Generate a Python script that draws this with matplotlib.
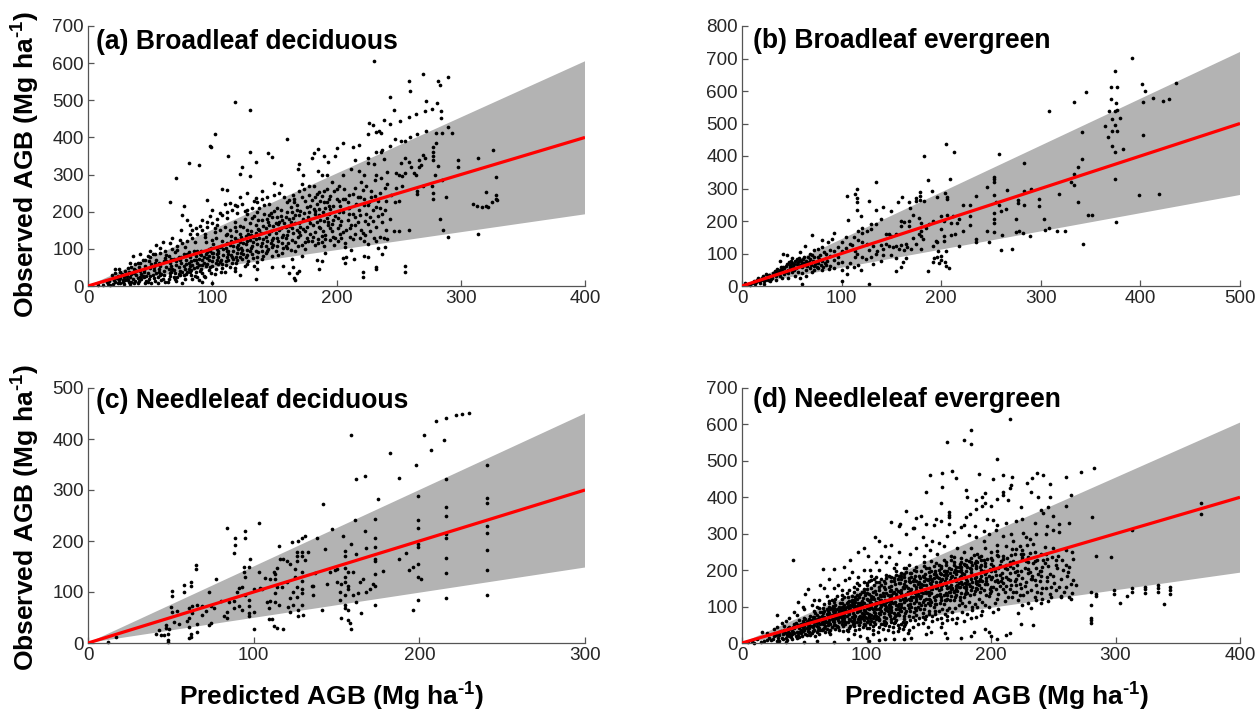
import numpy as np
import matplotlib
matplotlib.use("Agg")
import matplotlib.pyplot as plt

plt.rcParams['font.family'] = ['Liberation Sans', 'DejaVu Sans']
plt.rcParams['mathtext.fontset'] = 'custom'
plt.rcParams['mathtext.rm'] = 'Liberation Sans'
plt.rcParams['mathtext.bf'] = 'Liberation Sans:bold'

titles = ["(a) Broadleaf deciduous", "(b) Broadleaf evergreen",
          "(c) Needleleaf deciduous", "(d) Needleleaf evergreen"]
x_max = [400, 500, 300, 400]
y_max = [700, 800, 500, 700]
x_ticks = [[0, 100, 200, 300, 400], [0, 100, 200, 300, 400, 500],
           [0, 100, 200, 300], [0, 100, 200, 300, 400]]
y_ticks = [[0, 100, 200, 300, 400, 500, 600, 700],
           [0, 100, 200, 300, 400, 500, 600, 700, 800],
           [0, 100, 200, 300, 400, 500],
           [0, 100, 200, 300, 400, 500, 600, 700]]
band_upper = [605, 720, 450, 605]
band_lower = [193, 280, 148, 193]

points_a = [
(230,605),(118,495),(130,475),(102,408),(98,378),(99,373),(160,395),(81,330),(89,326),(71,290),(113,349),(130,361),(145,358),(148,347),
(135,335),(124,320),(122,302),(130,295),(66,225),(77,216),(96,232),(108,262),(112,258),(100,205),(270,571),(258,553),(259,525),(290,562),
(282,551),(283,540),(243,510),(272,497),(281,493),(277,477),(284,470),(284,452),(264,463),(271,470),(258,455),(251,445),(246,473),(238,447),
(243,436),(226,438),(229,433),(232,415),(225,410),(234,418),(236,412),(290,427),(293,413),(272,417),(265,408),(259,400),(255,390),(252,390),
(247,397),(243,377),(237,367),(280,412),(285,413),(280,385),(278,375),(278,360),(270,352),(271,345),(278,350),(278,340),(266,340),(255,345),
(258,335),(252,330),(260,320),(266,320),(268,325),(282,322),(262,305),(255,305),(250,300),(253,295),(248,303),(241,308),(264,300),(279,300),
(285,285),(277,268),(270,268),(265,255),(265,248),(278,250),(278,235),(288,240),(283,180),(286,150),(290,132),(298,338),(298,320),(314,344),
(326,366),(328,293),(310,222),(313,215),(317,213),(320,215),(322,214),(325,226),(320,253),(328,245),(328,235),(329,232),(314,140),(258,150),
(250,148),(255,55),(255,38),(221,38),(221,25),(232,45),(232,50),(186,45),(188,68),(184,70),(207,62),(205,75),(208,78),(214,72),(222,80),
(225,78),(237,85),(233,102),(239,105),(168,35),(166,22),(167,15),(162,35),(135,18),(122,30),(118,48),(136,45),(148,50),(157,55),(165,50),
(170,40),(205,385),(200,372),(213,375),(218,380),(199,350),(185,370),(182,358),(190,350),(193,335),(180,345),(170,328),(169,315),(185,310),
(188,300),(192,300),(173,300),(205,300),(212,315),(218,310),(222,300),(215,340),(225,345),(232,362),(236,360),(230,328),(238,342),(225,330),
(232,300),(236,292),(220,280),(224,270),(231,285),(228,255),(235,250),(241,275),(248,265),(253,270),(244,245),(240,230),(250,228),(222,235),
(226,225),(232,212),(218,205),(224,195),(233,188),(237,172),(240,150),(232,160),(225,168),(220,150),(215,140),(222,120),(225,112),(232,120),
(238,130),(241,127),(212,98),(207,105),(198,110),(190,108),(195,125),(203,140),(208,150),(212,165),(204,175),(196,168),(190,175),(186,160),
(183,145),(188,135),(176,130),(170,145),(164,155),(158,170),(152,185),(146,190),(140,178),(135,165),(128,150),(122,140),(118,130),(112,115),
(108,120),(104,100),(100,88),(96,76),(92,70),(88,62),(82,55),(78,45),(74,40),(70,35),(66,28),(60,20),(56,24),(52,30),(48,35),(44,28),(40,22),
(36,18),(32,15),(28,10),(24,8),(20,6),(16,5),(12,3),(8,2),(22,35),(25,45),(30,40),(35,52),(38,58),(42,62),(46,70),(50,78),(54,85),(58,90),
(62,95),(65,80),(68,100),(72,108),(76,115),(80,122),(84,130),(88,140),(92,150),(96,160),(100,170),(104,180),(108,190),(112,198),(116,205),
(120,215),(124,220),(128,205),(132,210),(136,225),(140,235),(144,240),(150,245),(154,250),(158,240),(162,232),(166,225),(170,255),(174,262),
(178,268),(182,270),(186,252),(190,255),(196,280),(202,270),(206,262),(210,245),(200,235),(192,225),(184,220),(176,212),(168,205),(160,198),
(150,202),(142,195),(134,188),(126,180),(118,172),(110,160),(102,145),(94,132),(86,118),(78,105),(70,92),(62,75),(54,62),(46,55),(38,42),(30,30),
(26,22),(34,25),(42,40),(50,48),(58,55),(66,62),(74,70),(82,78),(90,85),(98,95),(106,105),(114,110),(122,118),(130,125),(138,130),(146,140),
(154,150),(162,162),(170,170),(178,178),(186,190),(194,195),(202,200),(210,210),(216,222),(222,218),(228,240),(120,90),(112,78),(104,70),
(96,60),(88,50),(80,38),(72,25),(64,12),(56,8),(48,12),(40,8),(100,55),(92,35),(84,20),(76,8),(92,12),(88,25),(100,8),(108,48),(116,62),
(124,72),(132,85),(140,95),(148,105),(156,115),(164,125),(172,110),(180,120),(188,118),(196,148),(204,130),(140,72),(148,80),(156,88),(164,72),
(172,80),(128,60),(136,65),(120,105),(128,98),(136,112),(144,120),(152,130),(160,138),(168,150),(176,160),(184,172),(192,182),(114,150),(122,162),
(130,170),(138,152),(146,165),(154,172),(162,180),(170,190),(178,198),(186,208),(194,215),(202,228),(210,195),(95,118),(103,128),(111,138),
(119,125),(127,135),(135,142),(143,155),(85,95),(77,85),(69,72),(61,66),(53,52),(45,44),(37,35),(29,24),(21,15),(15,10),(33,10),(41,14),(49,18),
(57,38),(65,45),(73,52),(81,62),(89,72),(97,82),(105,88),(113,95),(121,100),(87,155),(82,165),(76,190),(80,178),(92,178),(98,188),(102,155),
(110,220),(118,218),(122,240),(128,250),(135,238),(140,255),(150,278),(155,272),(165,245),(172,275),(178,245),(75,150),(82,140),(68,130),(60,118),
(55,110),(50,95),(42,85),(36,80),(100,125),(106,150),(112,140),(128,120),(143,108),(151,95),(159,108),(167,95),(175,100),(183,110),(191,90)]

points_a_dense = [
(17,14),(23,21),(19,30),(27,33),(31,19),(24,26),(33,37),(39,29),(28,17),(35,12),(43,33),(37,47),(47,27),(41,51),(53,43),(45,37),(51,59),(57,47),(49,67),(59,33),
(55,71),(63,51),(61,41),(67,53),(63,83),(69,43),(71,67),(67,37),(73,79),(75,61),(79,71),(71,57),(77,53),(83,67),(81,91),(79,33),(85,49),(87,81),(83,43),(89,57),
(91,93),(87,71),(93,63),(95,87),(91,47),(97,69),(99,101),(93,79),(101,77),(103,63),(97,43),(105,95),(107,71),(101,113),(109,83),(111,101),(105,59),(113,85),(115,121),
(107,109),(117,93),(119,77),(111,67),(121,111),(123,89),(115,135),(125,117),(127,79),(117,107),(129,141),(131,101),(119,149),(133,119),(135,93),(123,131),(137,153),
(139,107),(125,159),(141,127),(143,89),(131,147),(145,171),(147,115),(133,131),(149,161),(151,143),(137,179),(153,121),(155,189),(141,161),(157,137),(159,159),(147,197),
(161,117),(163,173),(149,129),(165,143),(167,191),(153,167),(169,131),(171,203),(155,205),(173,153),(175,119),(159,185),(177,187),(179,141),(163,213),(181,163),(183,201),
(167,169),(185,127),(187,229),(171,159),(189,149),(191,209),(175,229),(193,165),(195,243),(179,215),(197,133),(199,189),(183,239),(201,157),(203,215),(187,177),(205,145),
(207,233),(191,137),(209,179),(211,131),(195,207),(213,249),(197,177),(215,165),(217,239),(201,121),(219,191),(221,259),(205,199),(223,175),(225,217),(209,227),(227,147),
(229,205),(213,193),(231,243),(233,229),(215,263),(235,209),(237,193),(219,129),(239,263),(223,137),(25,15),(29,6),(35,33),(31,27),(37,9),(43,19),(39,41),(47,13),(45,23),
(51,9),(55,35),(53,21),(59,15),(57,63),(61,29),(63,67),(65,19),(67,73),(69,23),(71,13),(73,33),(75,77),(77,29),(79,59),(81,47),(83,29),(85,69),(87,37),(89,15),(91,83),(93,27),
(95,53),(97,99),(99,35),(101,89),(103,47),(105,79),(107,37),(109,99),(111,57),(113,69),(115,83),(117,73),(119,61),(121,123),(123,103),(125,85),(127,113),(129,67),(131,137),
(133,75),(135,127),(137,91),(139,143),(141,81),(143,133),(145,99),(147,149),(149,111),(151,169),(153,83),(155,155),(157,103),(159,129),(161,147),(163,97),(165,183),(167,119),
(169,109),(171,137),(173,181),(175,147),(177,121),(179,169),(181,133),(183,193),(185,115),(187,157),(189,199),(191,127),(193,173),(195,155),(197,215),(199,129),(201,183),
(203,163),(205,233),(207,117),(209,211),(211,155),(213,127),(215,185),(217,173),(219,239),(221,143),(227,187),(229,175),(235,131),(230,130),(239,205),(243,180),(247,227),
(246,147),(72,97),(74,123),(66,117),(58,103),(52,85),(48,81),(44,69),(40,61),(34,63),(32,49),(26,37),(20,21),(22,47),(84,151),(90,161),(94,141),(96,173),(104,163),(106,197),
(112,183),(114,223),(118,159),(120,197),(126,203),(128,193),(132,183),(134,229),(136,199),(138,209),(142,217),(144,181),(146,221),(148,185),(152,211),(156,177),(160,227),
(164,199),(166,235),(168,217),(172,239),(174,197),(180,231),(182,207),(184,249),(188,241),(190,225),(192,261),(194,233),(198,255),(200,261),
(18,4),(22,11),(26,7),(30,16),(34,6),(38,13),(42,24),(46,9),(50,26),(54,14),(58,29),(62,11),(66,35),(70,19),(74,29),(78,19),(82,37),(86,27),(90,41),(94,23),(98,51),(102,33),
(106,65),(110,37),(114,51),(118,41),(122,77),(126,55),(130,93),(134,55),(68,47),(72,73),(76,37),(80,87),(84,57),(88,93),(92,57),(96,91),(100,67),(104,87),(108,59),(112,93),
(116,79),(120,71),(124,97),(128,83),(132,109),(136,79),(140,115),(144,93),(148,125),(152,107),(156,133),(160,103)]

points_b = [
(392,702),(374,662),(370,613),(377,611),(370,576),(376,562),(402,622),(405,600),(413,578),(403,566),(423,570),(429,575),(436,624),(345,598),
(333,565),(308,540),(368,537),(374,538),(377,542),(380,518),(371,513),(364,493),(374,495),(371,478),(377,478),(341,473),(403,466),(367,458),
(371,432),(374,412),(383,422),(258,406),(205,438),(213,411),(183,400),(283,378),(341,390),(337,366),(333,346),(330,320),(333,310),(374,330),
(399,281),(419,284),(337,258),(318,282),(347,218),(351,217),(342,129),(376,197),(316,168),(324,168),(308,177),(303,206),(304,172),(289,154),
(298,245),(298,269),(290,298),(283,293),(283,248),(277,255),(277,265),(266,296),(253,335),(253,328),(253,320),(246,305),(253,280),(255,258),
(258,248),(253,225),(260,230),(265,238),(275,205),(253,205),(253,195),(253,165),(261,158),(275,165),(278,170),(282,164),(260,112),(271,114),
(246,168),(248,136),(235,278),(229,248),(222,248),(229,215),(218,205),(216,195),(222,168),(229,188),(235,135),(235,145),(218,124),(209,328),
(187,327),(191,291),(179,288),(179,276),(204,285),(196,275),(206,268),(206,275),(179,265),(183,262),(175,270),(175,262),(168,258),(169,240),
(161,275),(157,258),(142,243),(150,230),(135,234),(128,262),(135,320),(115,298),(113,282),(115,272),(115,258),(115,234),(105,278),(106,203),
(119,216),(120,162),(125,170),(130,175),(135,192),(140,205),(145,160),(150,155),(155,160),(160,185),(160,200),(163,198),(168,185),(168,200),
(172,220),(178,208),(180,195),(180,170),(180,155),(182,145),(180,115),(192,122),(195,137),(197,108),(200,92),(196,88),(193,85),(200,80),(204,75),
(198,70),(192,74),(205,62),(208,55),(187,47),(200,215),(203,200),(200,175),(203,155),(203,138),(206,218),(212,215),(210,158),(214,160),(192,200),
(185,180),(188,190),(172,148),(165,130),(160,125),(163,110),(165,85),(162,75),(160,60),(155,45),(155,85),(150,95),(148,122),(142,115),(142,95),
(140,78),(135,100),(132,68),(128,112),(125,130),(132,122),(120,88),(115,100),(113,108),(113,88),(110,125),(112,60),(119,50),(105,60),(105,38),
(100,15),(128,6),(60,5),(100,75),(96,90),(92,108),(90,145),(92,162),(86,135),(80,120),(70,158),(80,142),(78,95),(72,110),(68,100),(63,122),
(58,105),(50,85),(45,95),(41,98),(38,78),(53,78),(50,72),(55,68),(58,80),(60,60),(62,70),(65,62),(68,55),(72,62),(76,72),(80,78),(84,85),(88,92),
(92,80),(96,72),(100,108),(104,118),(108,130),(112,150),(116,142),(120,135),(76,55),(80,50),(72,48),(64,48),(60,40),(56,44),(52,50),(48,58),
(44,62),(40,48),(36,44),(32,38),(28,30),(24,36),(20,26),(16,24),(14,12),(10,8),(6,5),(3,10),(8,2),(18,10),(22,14),(26,20),(30,24),(34,30),(38,32),
(42,36),(46,40),(50,44),(54,55),(58,65),(46,50),(42,55),(38,50),(34,42),(30,32),(26,30),(56,75),(52,68),(48,66),(60,72),(64,78),(68,84),(72,88),
(76,90),(84,65),(88,62),(92,55),(100,48),(108,70),(116,65),(124,82),(130,90),(136,108),(145,130),(152,120),(158,115),(166,120),(170,115),(175,130),
(178,160),(210,195),(205,108),(196,135),(53,32),(46,26),(40,24),(34,18),(28,15),(22,5),(64,30),(70,42),(58,25),(84,100),(88,110),(82,105),(76,115),
(70,95),(66,90),(62,88),(116,170),(140,125),(155,122),(148,160),(130,190),(120,180),(100,135),(104,150),(96,120),
(45,68),(47,74),(49,78),(51,62),(55,82),(57,86),(59,76),(61,82),(63,66),(65,72),(67,74),(69,64),(71,78),(73,68),(75,58),(77,84),(79,66),(81,60),(83,72),(85,76),
(87,52),(43,42),(41,58),(39,60),(37,36),(35,52),(33,46),(31,40),(29,22),(27,34),(25,24),(23,18),(21,30),(19,20),(17,16),(15,18),(13,6),(12,14)]

points_c = [
(226,450),(230,451),(222,448),(216,442),(210,435),(159,408),(203,408),(215,399),(207,378),(182,372),(198,349),(241,350),(167,327),(162,322),(188,323),
(216,321),(199,288),(241,285),(241,274),(175,283),(142,272),(216,266),(216,250),(199,242),(199,226),(161,241),(173,243),(167,219),(147,223),(103,235),
(84,225),(95,219),(89,205),(95,205),(89,192),(88,176),(138,205),(131,209),(129,205),(127,200),(123,199),(115,191),(143,185),(154,209),(159,194),(173,205),
(173,189),(168,186),(162,175),(155,180),(155,170),(199,194),(199,188),(216,213),(216,205),(241,230),(241,215),(241,182),(192,176),(188,165),(196,150),
(194,143),(199,155),(216,167),(241,144),(216,138),(199,130),(201,126),(199,84),(196,64),(216,89),(241,95),(173,165),(173,160),(178,141),(173,135),(173,112),
(173,74),(170,105),(168,100),(172,115),(166,125),(164,120),(163,98),(162,80),(165,58),(160,95),(160,140),(157,140),(155,148),(155,130),(155,120),(153,115),
(150,120),(152,100),(157,112),(157,105),(155,95),(152,85),(155,75),(155,68),(157,65),(153,50),(157,45),(158,40),(159,27),(150,145),(146,140),(144,115),(141,65),
(136,95),(136,112),(137,138),(133,178),(131,162),(129,178),(129,170),(129,140),(129,122),(129,105),(129,98),(129,75),(130,55),(127,52),(127,65),(124,75),(126,90),
(124,100),(126,110),(125,130),(125,145),(126,160),(126,170),(126,178),(122,155),(120,160),(118,165),(116,165),(114,148),(113,135),(112,140),(113,125),(110,125),
(114,110),(113,98),(110,82),(108,80),(113,80),(115,75),(109,68),(109,47),(111,47),(112,33),(114,30),(118,28),(117,110),(122,60),(121,70),(122,88),(100,28),(100,60),
(97,52),(97,58),(97,72),(97,85),(95,95),(93,110),(95,130),(94,140),(94,150),(97,150),(98,165),(103,140),(105,105),(107,128),(100,105),(91,108),(90,100),(88,82),
(91,72),(93,65),(88,68),(85,80),(84,60),(84,50),(80,82),(77,125),(76,68),(73,100),(74,72),(74,40),(73,36),(71,62),(69,55),(69,72),(66,75),(65,152),(65,145),(62,120),
(62,112),(58,114),(58,100),(63,72),(61,68),(63,58),(61,50),(60,44),(61,32),(62,17),(62,12),(61,10),(66,22),(66,38),(55,38),(54,62),(51,60),(51,102),(51,92),(50,70),(52,42),
(47,35),(47,30),(48,18),(46,15),(44,15),(43,25),(41,18),(49,28),(48,5),(48,2),(17,12),(12,2),(82,52),(104,108),(120,120),(135,112),(149,143)]

points_d = [
(215,615),(184,585),(178,558),(165,553),(184,547),(205,504),(283,481),(272,470),(237,467),(242,460),(260,455),(169,473),(161,468),(151,460),(172,452),(190,463),
(202,450),(210,462),(217,456),(229,440),(233,453),(247,436),(216,433),(215,425),(161,428),(148,414),(180,420),(205,395),(210,415),(210,405),(232,415),(238,402),(247,400),
(264,407),(181,400),(193,400),(195,412),(188,392),(195,385),(214,393),(160,383),(193,375),(200,375),(224,373),(240,365),(246,372),(242,358),(250,350),(260,375),
(132,362),(166,360),(166,352),(166,345),(183,355),(180,345),(188,367),(197,340),(202,338),(144,348),(140,343),(156,340),(160,335),(120,333),(127,328),(126,320),(138,316),
(148,328),(154,325),(166,328),(178,325),(187,322),(194,308),(205,325),(212,330),(220,335),(225,340),(235,330),(255,328),(263,330),(255,305),(281,345),(284,240),(296,235),
(369,385),(369,353),(313,310),(245,322),(250,310),(244,300),(236,298),(231,285),(226,302),(216,300),(210,295),(205,270),(41,227),(65,203),(74,202),(82,208),(87,228),
(93,250),(98,262),(101,240),(107,292),(110,280),(115,265),(120,268),(126,250),(132,300),(137,315),(145,290),(148,270),(153,280),(158,275),(165,295),(170,305),(176,318),
(182,296),(188,290),(194,280),(198,298),(204,310),(28,78),(28,45),(35,60),(42,85),(45,112),(49,100),(53,148),(51,135),(58,118),(63,160),(66,150),(70,175),(77,160),(83,172),
(88,195),(93,180),(98,168),(103,200),(108,222),(112,240),(118,235),(124,218),(130,205),(135,245),(140,260),(146,240),(151,255),(157,245),(162,265),(168,240),(173,262),(178,250),
(184,260),(189,245),(195,262),(200,250),(206,238),(212,265),(218,280),(223,265),(228,290),(234,272),(240,245),(245,230),(250,262),(254,240),(260,255),(265,250),(266,230),(262,195),
(258,200),(252,215),(247,190),(241,208),(235,225),(230,235),(224,245),(218,225),(212,215),(206,205),(200,218),(194,228),(188,212),(182,225),(176,232),(170,215),(164,222),(158,215),
(152,225),(146,212),(140,198),(134,215),(128,192),(122,205),(116,222),(110,200),(104,185),(98,200),(92,165),(86,178),(80,145),(74,150),(68,130),(62,118),(56,105),(50,92),(44,78),(38,68),
(32,55),(26,38),(20,28),(16,30),(12,12),(8,6),(5,2),(10,1),(15,4),(20,8),(25,12),(30,5),(32,15),(36,22),(40,12),(44,30),(48,18),(52,40),(56,28),(60,48),(64,36),(68,58),(72,44),(76,68),(80,52),
(84,75),(88,60),(92,85),(96,70),(100,95),(104,78),(108,105),(112,88),(116,112),(120,98),(124,125),(128,108),(132,135),(136,118),(140,145),(144,128),(148,158),(152,138),(156,168),(160,148),
(164,178),(168,158),(172,190),(176,168),(180,198),(184,175),(188,205),(192,185),(196,195),(200,175),(204,188),(208,170),(212,182),(216,160),(220,175),(224,150),(228,168),(232,145),(236,160),
(240,138),(244,150),(248,125),(252,145),(256,130),(260,155),(264,120),(266,172),(268,160),(280,140),(284,135),(284,128),(280,105),(280,70),(280,63),(280,55),(299,145),(299,135),(304,110),
(309,130),(313,150),(313,140),(324,155),(324,148),(324,138),(334,158),(334,150),(334,140),(339,107),(344,155),(344,145),(344,135),(263,125),(256,125),(246,115),(240,110),(236,118),(232,95),
(225,105),(222,82),(224,52),(234,50),(206,92),(202,84),(198,100),(192,78),(188,72),(184,68),(178,60),(172,55),(165,62),(160,45),(163,28),(165,15),(176,15),(184,18),(186,30),(195,38),(198,30),
(200,18),(205,10),(212,22),(215,28),(148,25),(152,30),(136,15),(130,12),(122,12),(115,12),(110,8),(102,5),(100,15),(95,20),(90,25),(85,10),(74,4),(60,6),(50,3),(35,3),(28,5),(40,25),(46,42),
(50,55),(54,65),(58,50),(62,72),(66,60),(70,82),(74,95),(78,85),(82,105),(86,115),(90,98),(94,125),(98,110),(102,135),(106,120),(110,145),(114,130),(118,155),(122,140),(126,165),(130,150),
(134,178),(138,160),(142,185),(146,170),(150,195),(154,178),(158,200),(162,188),(166,205),(170,195),(174,208),(178,190),(72,118),(76,128),(80,120),(84,138),(88,130),(92,148),(96,140),(100,158),
(104,150),(108,168),(112,160),(116,178),(120,170),(124,188),(128,175),(132,195),(136,180),(58,88),(62,95),(66,108),(70,100),(74,112),(78,98),(82,88),(86,95),(90,78),(94,88),(98,80),(102,92),
(106,75),(110,82),(114,72),(118,80),(122,68),(126,78),(130,65),(134,75),(138,85),(142,70),(146,92),(150,80),(154,100),(158,88),(162,108),(166,95),(170,118),(174,105),(178,125),(182,112),(186,135),
(190,120),(194,145),(198,128),(202,155),(206,135),(210,148),(214,125),(218,140),(222,118),(226,132),(230,110),(46,30),(42,40),(38,28),(34,35),(30,22),(26,18),(22,14),(18,6),(54,42),(58,35),(62,25),
(66,42),(70,30),(74,50),(78,35),(82,60),(86,42),(90,55),(94,38),(98,52),(102,40),(106,58),(110,45),(114,60),(118,48),(122,55),(126,42),(130,48),(134,35),(50,70),(46,62),(42,52),(38,45),(34,48),
(60,78),(64,84),(68,92),(72,76),(76,80),(80,68),(84,85),(88,72),(92,102),(96,115),(100,105),(104,122),(108,112),(112,128),(116,100),(120,115),(124,92),(128,100),(132,88),(136,100),(140,115),
(144,105),(148,120),(152,112),(156,128),(160,118),(164,138),(168,128),(172,148),(176,138),(180,155),(184,145),(188,165),(192,150),(196,170),(200,155),(120,145),(124,135),(128,128),(132,118),
(136,138),(140,128),(144,150),(148,138),(152,162),(156,150),(160,172),(164,160),(168,180),(172,170),(176,185),(180,175),(184,195),(188,182),(192,200),(80,110),(84,100),(88,112),(92,120),(96,98),
(100,120),(104,100),(108,92),(112,105),(116,90),(120,85),(124,105),(128,88),(100,68),(104,60),(108,65),(112,52),(116,68),(120,58),(124,62),(128,52),(70,62),(74,58),(78,72),(82,78),(86,65),(90,68),
(94,72),(98,62),(66,72),(62,62),(58,58),(54,50),(50,48),(46,50),(42,45),(38,38),(34,30),(30,30)]

points_d_dense = [
(23,9),(27,21),(31,33),(33,11),(35,27),(37,41),(39,17),(41,31),(43,55),(45,21),(47,37),(49,61),(51,25),(53,49),(55,73),(57,33),(59,63),(61,43),(63,85),(65,51),(67,29),(69,71),(71,53),(73,101),
(75,39),(77,63),(79,111),(81,47),(83,91),(85,33),(87,103),(89,51),(91,127),(93,67),(95,91),(97,43),(99,131),(101,61),(103,113),(105,37),(107,143),(109,71),(111,97),(113,53),(115,149),(117,87),
(119,123),(121,43),(123,161),(125,83),(127,139),(129,59),(131,171),(133,103),(135,143),(137,71),(139,183),(141,99),(143,153),(145,83),(147,189),(149,111),(151,165),(153,73),(155,191),(157,131),
(159,167),(161,93),(163,199),(165,121),(167,173),(169,85),(171,201),(173,143),(175,181),(177,111),(179,213),(181,137),(183,185),(185,99),(187,219),(189,149),(191,175),(193,113),(195,211),(197,161),
(199,137),(201,229),(203,169),(205,121),(207,215),(209,179),(211,139),(213,233),(215,191),(217,127),(219,243),(221,199),(223,161),(225,255),(227,207),(229,141),(231,247),(233,185),(235,127),(237,229),
(239,169),(241,151),(243,219),(245,181),(247,135),(249,237),(251,165),(253,205),(255,155),(257,229),(259,141),(261,183),(263,209),(265,137),
(29,13),(33,25),(35,15),(37,31),(39,23),(41,43),(43,19),(45,49),(47,27),(49,43),(51,67),(53,33),(55,57),(57,45),(59,81),(61,37),(63,53),(65,67),(67,47),(69,89),(71,35),(73,61),(75,77),(77,45),(79,93),
(81,33),(83,59),(85,101),(87,47),(89,83),(91,37),(93,109),(95,57),(97,75),(99,49),(101,117),(103,69),(105,93),(107,53),(109,123),(111,79),(113,107),(115,49),(117,133),(119,73),(121,109),(123,57),(125,143),
(127,91),(129,121),(131,51),(133,151),(135,89),(137,125),(139,63),(141,163),(143,93),(145,137),(147,67),(149,173),(151,103),(153,149),(155,87),(157,181),(159,109),(161,159),(163,79),(165,187),(167,117),
(169,151),(171,97),(173,197),(175,127),(177,161),(179,101),(181,209),(183,133),(185,167),(187,107),(189,223),(191,141),(193,171),(195,105),(197,231),(199,147),(201,181),(203,109),(205,241),(207,157),
(209,193),(211,115),(213,203),(215,149),(217,257),(219,169),(221,213),(223,131),(225,231),(227,157),(229,269),(231,195),(233,175),(235,249),(237,139),(239,197),(241,121),(243,263),(245,169),
(36,9),(40,33),(44,15),(48,47),(52,21),(56,63),(60,31),(64,75),(68,39),(72,97),(76,47),(80,89),(84,35),(88,119),(92,59),(96,83),(100,41),(104,129),(108,73),(112,101),(116,55),(120,131),(124,77),(128,145),
(132,59),(136,149),(140,91),(144,163),(148,73),(152,177),(156,107),(160,189),(164,119),(168,203),(172,131),(176,209),(180,141),(184,221),(188,151),(192,229),(196,133),(200,197),(204,147),(208,225),
(212,157),(216,241),(220,139),(224,199),(228,225),(232,177),(236,207),(240,183),(244,243),(248,155),(252,227),(256,177),(260,213),(264,161),
(38,19),(42,27),(46,17),(50,35),(54,29),(58,71),(62,41),(66,87),(70,53),(74,83),(78,57),(82,127),(86,87),(90,141),(94,49),(98,139),(102,79),(106,159),(110,63),(114,171),(118,103),(122,179),(126,93),(130,189),
(134,97),(138,201),(142,109),(146,223),(150,121),(154,211),(158,131),(162,229),(166,141),(170,237),(174,153),(178,217),(182,161),(186,241),(190,169),(194,199),(198,183),(202,211),(206,167),(210,231),
(214,177),(218,207),(222,187),(226,245),(230,203),(234,219),(238,189),(242,227),(246,211),(250,183),
(55,23),(59,19),(63,37),(67,59),(71,25),(75,87),(79,79),(83,51),(87,63),(91,113),(95,105),(99,89),(103,53),(107,99),(111,133),(115,105),(119,143),(123,113),(127,165),(131,123),(135,167),(139,137),(143,179),
(147,145),(151,183),(155,157),(159,193),(163,169),(167,193),(171,179),(175,199),(179,165),(183,205),(187,179),(191,209),(195,189),(199,203),(203,197),(207,187),(211,207),(215,211),(219,195),
(70,109),(75,121),(80,133),(85,125),(90,117),(95,135),(100,147),(105,139),(110,155),(115,165),(120,157),(125,175),(130,181),(135,193),(140,171),(145,185),(150,207),(155,199),(160,211),(165,197),(170,223),
(175,217),(180,227),(185,213),(190,237),(195,219),(200,233),(205,253),(210,239),(215,221),(220,257),(225,237),(230,221),
(105,25),(109,31),(113,39),(117,35),(121,29),(125,33),(129,39),(133,27),(137,43),(141,51),(145,55),(149,43),(153,61),(157,67),(161,55),(165,75),(169,67),(173,69),(177,85),(181,79),(185,91),(189,99),(193,89),
(60,99),(65,95),(70,115),(75,105),(80,75),(85,113),(90,105),(95,75),(100,83),(105,69),(110,111),(115,119),(120,91),(125,101),(130,113),(135,107),(140,121),(145,113),(150,131),(155,119),(160,127),(165,131),
(170,139),(175,119),(180,147),(185,153),(190,159),(195,163),(200,143),(205,173),(210,165),(215,173),(220,159),(225,179),(230,193),(235,173),(240,199),
(47,53),(52,58),(56,47),(60,66),(64,57),(68,79),(72,67),(76,93),(80,99),(84,109),(88,101),(92,131),(96,107),(100,137),(104,109),(108,135),(112,117),(116,137),(120,127),(124,147),(128,137),(132,157),(136,127),
(140,155),(144,139),(148,177),(152,147),(156,187),(160,157),(164,191),(168,149),(172,157),(176,201),(180,163),(184,203),(188,171),(192,215),(196,179),(49,33),(53,61),(57,71),(61,57),(65,83),(69,49),(73,87),
(77,75),(81,97),(85,87),(89,107),(93,93),(97,123),(101,103),(105,127),(109,109),(113,137),(117,115),(121,137),(125,127),(129,153),(133,141),(137,169),(141,135),(145,159),(149,141),(153,169),(157,153),(161,177),
(165,151),(169,183),(173,159),(177,193),(181,171),(185,187),(189,163),(67,65),(71,93),(75,69),(79,85),(83,97),(87,93),(91,75),(95,109),(99,71),(103,95),(107,83),(111,119),(115,93),(119,107),(123,73),(127,117),
(131,83),(135,117),(139,97),(143,123),(147,103),(151,117),(155,107),(159,135),(163,117),(167,139),(171,127),(175,155),(179,135),(183,157),(187,143),(66,55),(70,73),(74,65),(78,91),(82,69),(86,79),(90,63),(94,97),
(98,91),(102,73),(106,85),(110,93),(114,83),(118,95),(122,83),(126,107),(130,97),(134,121),(138,111),(142,129),(146,119),(150,139),(154,127),(158,145),(162,133),(166,155),(170,143),(174,165),(178,153),
(50,39),(55,47),(60,55),(65,39),(70,55),(75,49),(80,61),(85,57),(90,47),(95,65),(100,59),(105,47),(110,67),(115,57),(120,65),(125,49),(130,73),(135,63),(140,77),(145,71),(150,87),(155,79),(160,69),(165,91),
(100,165),(104,173),(108,181),(112,175),(116,187),(120,181),(124,197),(128,185),(132,205),(136,191),(140,209),(144,197),(148,205),(152,199),(156,219),(160,207),(164,215),(168,227),(172,209),(176,223),(180,215),(184,233),(188,225),(192,239),
(86,145),(90,153),(94,159),(98,149),(102,169),(106,175),(110,167),(114,155),(118,183),(122,169),(126,183),(130,163),(134,171),(138,175),(142,167),(146,181),(150,175),(154,189),(158,179),(162,197)]

all_points = [points_a + points_a_dense, points_b, points_c, points_d + points_d_dense]

panel_px = [(88, 26, 497, 260), (742, 26, 498, 260), (88, 388, 497, 255), (742, 388, 498, 255)]
title_px = [(96, 42), (753, 41), (96, 401), (753, 400)]
ylabel_bottom_px = [318, 671]
xlabel_center_px = [332, 997]
W, H = 1257, 711

fig = plt.figure(figsize=(W / 100, H / 100), dpi=100)
y_label = 'Observed AGB (Mg ha$^{\\mathbf{\u20101}}$)'
x_label = 'Predicted AGB (Mg ha$^{\\mathbf{\u20101}}$)'

for i in range(4):
	l, t, w, h = panel_px[i]
	ax = fig.add_axes([l / W, 1 - (t + h) / H, w / W, h / H])
	xm = x_max[i]
	ax.fill([0, xm, xm], [0, band_upper[i], band_lower[i]], color='#b3b3b3', lw=0, zorder=1)
	pts = np.array(all_points[i])
	ax.scatter(pts[:, 0], pts[:, 1], s=7, c='black', lw=0, zorder=2, clip_on=False)
	ax.plot([0, xm], [0, xm], color='#ff0000', lw=2.3, zorder=3, solid_capstyle='butt')
	ax.set_xlim(0, xm)
	ax.set_ylim(0, y_max[i])
	ax.set_xticks(x_ticks[i])
	ax.set_yticks(y_ticks[i])
	ax.spines['top'].set_visible(False)
	ax.spines['right'].set_visible(False)
	for s in ['left', 'bottom']:
		ax.spines[s].set_color('#555555')
		ax.spines[s].set_linewidth(0.9)
	ax.tick_params(direction='in', length=4, width=0.9, color='#555555', labelsize=13.6, labelcolor='#262626', pad=3)
	fig.text(title_px[i][0] / W, 1 - title_px[i][1] / H, titles[i], fontsize=19.1, fontweight='bold', va='center', ha='left')
	if i % 2 == 0:
		fig.text(25 / W, 1 - ylabel_bottom_px[i // 2] / H, y_label, rotation=90, fontsize=19, fontweight='bold', va='bottom', ha='center')
	if i >= 2:
		fig.text(xlabel_center_px[i - 2] / W, 1 - 696 / H, x_label, fontsize=19, fontweight='bold', va='center', ha='center')

fig.savefig('out.png', dpi=100)
